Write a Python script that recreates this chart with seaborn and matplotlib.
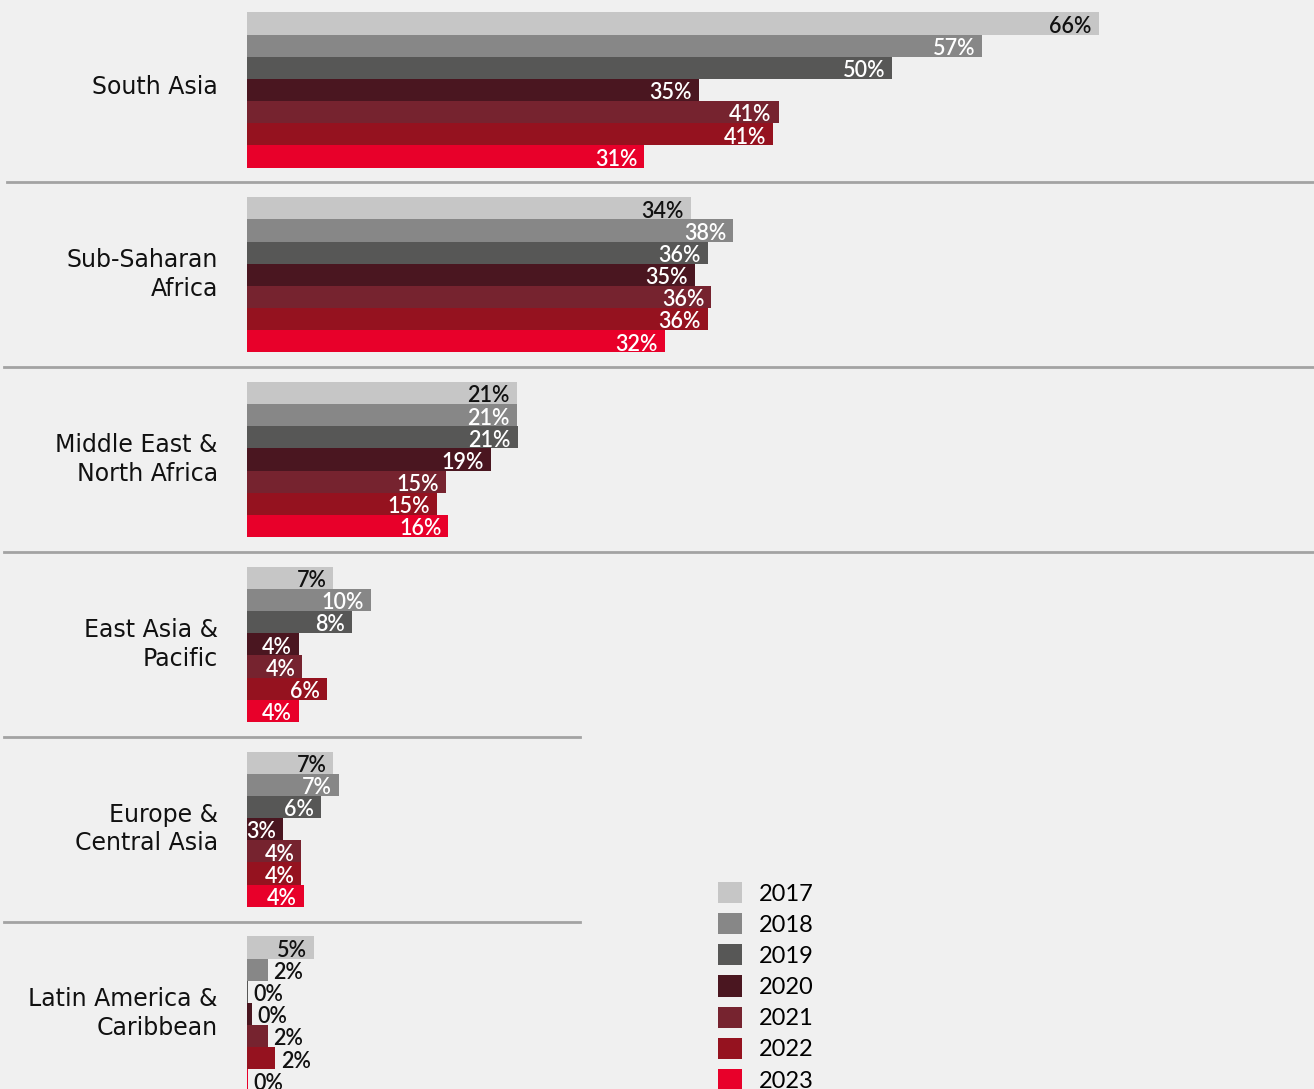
import pandas as pd
import seaborn as sns
import matplotlib.pyplot as plt
import matplotlib.transforms as mtransforms
from matplotlib.lines import Line2D
from matplotlib.patches import Patch

regions = ["South Asia", "Sub-Saharan\nAfrica", "Middle East &\nNorth Africa",
           "East Asia &\nPacific", "Europe &\nCentral Asia", "Latin America &\nCaribbean"]
years = ["2017", "2018", "2019", "2020", "2021", "2022", "2023"]
colors = ["#c6c6c6", "#878787", "#575756", "#4a1620", "#76232f", "#95121f", "#e8002a"]

# share (%) per region, one list per year
v2017 = [66.0, 34.4, 20.9, 6.7, 6.7, 5.2]
v2018 = [57.0, 37.7, 20.9, 9.6, 7.1, 1.6]
v2019 = [50.0, 35.7, 21.0, 8.1, 5.7, 0.1]
v2020 = [35.0, 34.7, 18.9, 4.0, 2.8, 0.4]
v2021 = [41.2, 36.0, 15.4, 4.3, 4.2, 1.6]
v2022 = [40.8, 35.7, 14.7, 6.2, 4.2, 2.2]
v2023 = [30.8, 32.4, 15.6, 4.0, 4.4, 0.1]
values = [v2017, v2018, v2019, v2020, v2021, v2022, v2023]

rows = []
for y, vals in zip(years, values):
    for r, v in zip(regions, vals):
        rows.append({"region": r, "year": y, "value": v})
df = pd.DataFrame(rows)

bg = "#f0f0f0"
fig = plt.figure(figsize=(13.14, 10.89), dpi=100, facecolor=bg)
ax = fig.add_axes([247 / 1314, 0, 1 - 247 / 1314, 1])
ax.set_facecolor(bg)
plt.rcParams['font.family'] = ['Lato', 'DejaVu Sans']

sns.barplot(data=df, y="region", x="value", hue="year", palette=colors,
            orient="h", width=0.84, gap=0, saturation=1, ax=ax, legend=False,
            errorbar=None)

ax.set_xlim(0, 82.7)
ax.set_ylim(5.406, -0.487)
for s in ax.spines.values():
    s.set_visible(False)
ax.set_xticks([])
ax.set_xlabel("")
ax.set_ylabel("")
ax.tick_params(axis="y", length=0, pad=21)
ax.set_yticks(range(len(regions)))
ax.set_yticklabels(regions, fontsize=17, color="#111111", ha="right",
                   linespacing=1.25)
shift = mtransforms.ScaledTranslation(0, 5 / 100, fig.dpi_scale_trans)
for lab in ax.get_yticklabels():
    lab.set_transform(lab.get_transform() + shift)

# value labels
for i, cont in enumerate(ax.containers):
    for bar, v in zip(cont, values[i]):
        yc = bar.get_y() + bar.get_height() / 2
        txt = f"{round(v):d}%"
        if v < 2.5:
            ax.annotate(txt, (bar.get_width(), yc), xytext=(4, -2),
                        textcoords="offset points", ha="left", va="center",
                        fontsize=15.5, color="#111111", fontweight="semibold")
        else:
            col = "#111111" if i == 0 else "white"
            ax.annotate(txt, (bar.get_width(), yc), xytext=(-5, -2),
                        textcoords="offset points", ha="right", va="center",
                        fontsize=15.5, color=col, fontweight="semibold")

# separators between regions
trans = mtransforms.blended_transform_factory(fig.transFigure, ax.transData)
seps = [(0.5, 7 / 1314, 1.0), (1.5, 4 / 1314, 1.0), (2.5, 4 / 1314, 1.0),
        (3.5, 4 / 1314, 580 / 1314), (4.5, 4 / 1314, 580 / 1314)]
for yy, x0, x1 in seps:
    fig.add_artist(Line2D([x0, x1], [yy, yy], transform=trans,
                          color="#a3a3a3", linewidth=2))

handles = [Patch(facecolor=c, edgecolor="none") for c in colors]
fig.legend(handles, years, loc="upper left", bbox_to_anchor=(718 / 1314, 1 - 882 / 1089),
           frameon=False, fontsize=17, handlelength=1.0, handleheight=1.0,
           handletextpad=0.75, labelspacing=0.36, borderpad=0, borderaxespad=0)

fig.savefig("out.png", dpi=100, facecolor=bg)
